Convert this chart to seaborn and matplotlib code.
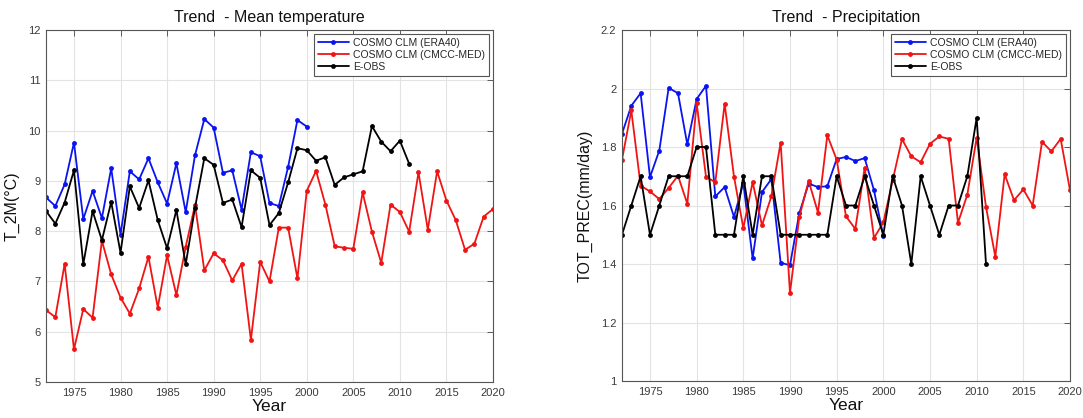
import numpy as np
import pandas as pd
import matplotlib
matplotlib.use("Agg")
import matplotlib.pyplot as plt
import seaborn as sns

# ---------------- data ----------------
years_era40 = list(range(1972, 2001))
years_eobs = list(range(1972, 2012))
years_cmcc = list(range(1972, 2021))

temp_era40 = [8.67, 8.50, 8.93, 9.76, 8.24, 8.80, 8.26, 9.25, 7.93, 9.19,
              9.03, 9.45, 8.97, 8.55, 9.35, 8.38, 9.51, 10.23, 10.06, 9.16,
              9.21, 8.43, 9.57, 9.49, 8.56, 8.50, 9.28, 10.21, 10.08]
temp_eobs = [8.40, 8.15, 8.57, 9.21, 7.34, 8.40, 7.82, 8.58, 7.57, 8.89,
             8.46, 9.01, 8.22, 7.66, 8.42, 7.34, 8.47, 9.45, 9.32, 8.56,
             8.63, 8.08, 9.21, 9.06, 8.12, 8.36, 8.97, 9.65, 9.61, 9.40,
             9.47, 8.92, 9.07, 9.13, 9.19, 10.09, 9.78, 9.59, 9.80, 9.34]
temp_cmcc = [6.43, 6.29, 7.35, 5.65, 6.45, 6.28, 7.81, 7.14, 6.68, 6.36,
             6.86, 7.49, 6.48, 7.52, 6.73, 7.69, 8.52, 7.22, 7.56, 7.42,
             7.02, 7.35, 5.84, 7.39, 7.00, 8.07, 8.07, 7.06, 8.80, 9.20,
             8.53, 7.70, 7.67, 7.65, 8.77, 7.99, 7.37, 8.53, 8.38, 7.99,
             9.17, 8.03, 9.19, 8.61, 8.22, 7.63, 7.75, 8.29, 8.44]

prec_era40 = [1.845, 1.941, 1.984, 1.697, 1.788, 2.002, 1.984, 1.809, 1.964, 2.009,
              1.631, 1.663, 1.561, 1.677, 1.419, 1.646, 1.690, 1.404, 1.396, 1.574,
              1.675, 1.663, 1.666, 1.759, 1.766, 1.752, 1.762, 1.652, 1.495]
prec_eobs = [1.5, 1.6, 1.7, 1.5, 1.6, 1.7, 1.7, 1.7, 1.8, 1.8,
             1.5, 1.5, 1.5, 1.7, 1.5, 1.7, 1.7, 1.5, 1.5, 1.5,
             1.5, 1.5, 1.5, 1.7, 1.6, 1.6, 1.7, 1.6, 1.5, 1.7,
             1.6, 1.4, 1.7, 1.6, 1.5, 1.6, 1.6, 1.7, 1.9, 1.4]
prec_cmcc = [1.756, 1.925, 1.668, 1.648, 1.622, 1.660, 1.702, 1.606, 1.950, 1.699,
             1.679, 1.948, 1.699, 1.523, 1.680, 1.532, 1.631, 1.815, 1.301, 1.561,
             1.684, 1.576, 1.840, 1.757, 1.563, 1.520, 1.729, 1.489, 1.542, 1.686,
             1.827, 1.768, 1.748, 1.811, 1.836, 1.828, 1.541, 1.637, 1.832, 1.595,
             1.425, 1.707, 1.618, 1.655, 1.600, 1.818, 1.785, 1.828, 1.652]

series_names = ["COSMO CLM (ERA40)", "COSMO CLM (CMCC-MED)", "E-OBS"]
series_colors = ["#0a14f0", "#f01414", "#000000"]
xticks = [1975, 1980, 1985, 1990, 1995, 2000, 2005, 2010, 2015, 2020]


def build(era, cmcc, eobs):
    frames = []
    for name, yrs, vals in zip(series_names,
                               [years_era40, years_cmcc, years_eobs],
                               [era, cmcc, eobs]):
        frames.append(pd.DataFrame({"Year": yrs, "value": vals, "series": name}))
    return pd.concat(frames, ignore_index=True)


df_t = build(temp_era40, temp_cmcc, temp_eobs)
df_p = build(prec_era40, prec_cmcc, prec_eobs)

sns.set_theme(style="white")
plt.rcParams["font.family"] = ["Liberation Sans", "DejaVu Sans"]

fig = plt.figure(figsize=(10.83, 4.18), dpi=100)
ax1 = fig.add_axes([0.0425, 0.0861, 0.4127, 0.842])
ax2 = fig.add_axes([0.5743, 0.0885, 0.4137, 0.8397])

palette = dict(zip(series_names, series_colors))


def draw(ax, df, ylim, yticks, yticklabels, ylabel, title):
    sns.lineplot(data=df, x="Year", y="value", hue="series", hue_order=series_names,
                 palette=palette, marker="o", markersize=3.5, markeredgewidth=0,
                 linewidth=1.3, sort=False, estimator=None, ax=ax)
    ax.set_xlim(1972, 2020)
    ax.set_ylim(*ylim)
    ax.set_xticks(xticks)
    ax.set_yticks(yticks)
    ax.set_yticklabels(yticklabels)
    ax.grid(True, color="#e3e3e3", linewidth=0.8)
    ax.tick_params(axis="both", which="both", direction="in", length=4,
                   top=True, right=True, labelsize=8, labelcolor="#3a3a3a",
                   color="#444444", width=0.6, pad=4)
    for s in ax.spines.values():
        s.set_color("#555555")
        s.set_linewidth(0.8)
    ax.set_xlabel("Year", fontsize=12.5, color="#111111", labelpad=1)
    ax.set_ylabel(ylabel, fontsize=11.5, color="#111111", labelpad=6)
    ax.set_title(title, fontsize=11.5, color="#111111", pad=6)
    leg = ax.legend(loc="upper right", fontsize=7.5, frameon=True, fancybox=False,
                    edgecolor="#555555", framealpha=1, handlelength=3.0,
                    borderpad=0.35, labelspacing=0.2, handletextpad=0.4,
                    borderaxespad=0.4)
    leg.get_frame().set_linewidth(0.8)
    for line in leg.get_lines():
        line.set_linewidth(1.3)
        line.set_markersize(3.5)


draw(ax1, df_t, (5, 12), [5, 6, 7, 8, 9, 10, 11, 12],
     ["5", "6", "7", "8", "9", "10", "11", "12"],
     "T_2M(°C)", "Trend  - Mean temperature")
draw(ax2, df_p, (1.0, 2.2), [1.0, 1.2, 1.4, 1.6, 1.8, 2.0, 2.2],
     ["1", "1.2", "1.4", "1.6", "1.8", "2", "2.2"],
     "TOT_PREC(mm/day)", "Trend  - Precipitation")

fig.savefig("out.png", dpi=100)
